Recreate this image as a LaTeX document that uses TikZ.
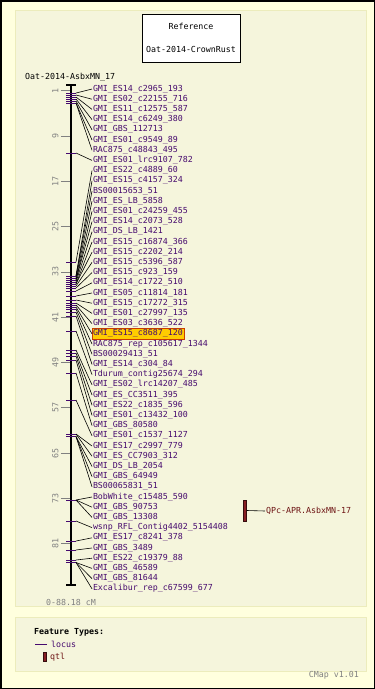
\documentclass[tikz,border=0pt]{standalone}
\usepackage{fontspec}
\setmainfont{DejaVu Sans Mono}
\usepackage{tikz}
\usetikzlibrary{positioning}

\definecolor{cream}{RGB}{255,255,222}
\definecolor{panelbg}{RGB}{245,245,220}
\definecolor{panelrule}{RGB}{236,236,188}
\definecolor{locuscol}{RGB}{70,10,110}
\definecolor{qtlcol}{RGB}{135,30,35}
\definecolor{qtltext}{RGB}{110,20,20}
\definecolor{hlfill}{RGB}{255,204,0}
\definecolor{hlrule}{RGB}{200,60,0}

\tikzset{
  px/.style={font=\fontsize{8.3}{10}\selectfont},
  lbl/.style={px, text=locuscol, inner xsep=1pt, inner ysep=1.1pt, outer sep=0pt,
              text height=6pt, text depth=2pt},
  hilite/.style={lbl, draw=hlrule, fill=hlfill, line width=0.8pt},
  snp/.style={fill=locuscol, minimum width=10pt, minimum height=0.9pt, inner sep=0pt, outer sep=0pt},
  endbar/.style={fill=black, minimum width=10pt, minimum height=1.2pt, inner sep=0pt, outer sep=0pt},
  con/.style={line width=0.6pt, black},
  chrom/.style={line width=2.6pt, black},
  scalenum/.style={px, text=gray, rotate=90, inner sep=0pt, text height=5.5pt, text depth=0pt},
  scaletick/.style={gray, line width=0.8pt},
  qtlbar/.style={fill=qtlcol, draw=black!60!qtlcol, line width=0.6pt, minimum width=3.5pt,
                 minimum height=21pt, inner sep=0pt, outer sep=0pt},
  panel/.style={fill=panelbg, draw=panelrule, line width=1pt}
}

\begin{document}
\begin{tikzpicture}[x=1pt, y=-1pt]

    \useasboundingbox (0,0) rectangle (375,689);

    % Background and panels
    \fill[cream] (0,0) rectangle (375,689);
    \draw[black, line width=1.5pt] (0.75,0.75) rectangle (374.25,688.25);
    \draw[panel] (15,10) rectangle (366,606);
    \draw[panel] (15,617) rectangle (366,671);

    % Reference box
    \node (refbox) [px, draw, fill=white, line width=0.8pt, minimum width=98pt, minimum height=48pt,
                    align=center] at (191,38) {Reference\\[13.5pt]Oat-2014-CrownRust};
    \node (mapname) [px, anchor=west, inner sep=0pt] at (25,77) {Oat-2014-AsbxMN\_17};

    % Chromosome
    \node (ctop) [endbar] at (71,85) {};
    \node (cbot) [endbar] at (71,585) {};
    \draw[chrom] (ctop.center) -- (cbot.center);
    \node (range) [px, text=gray, below=10pt of cbot] {0-88.18 cM};

    % Scale
    \node (s1) [scalenum] at (55.5,90.7) {1};
    \node (s9) [scalenum] at (55.5,136) {9};
    \node (s17) [scalenum] at (55.5,181.3) {17};
    \node (s25) [scalenum] at (55.5,226.6) {25};
    \node (s33) [scalenum] at (55.5,271.9) {33};
    \node (s41) [scalenum] at (55.5,317.2) {41};
    \node (s49) [scalenum] at (55.5,362.5) {49};
    \node (s57) [scalenum] at (55.5,407.8) {57};
    \node (s65) [scalenum] at (55.5,453.1) {65};
    \node (s73) [scalenum] at (55.5,498.4) {73};
    \node (s81) [scalenum] at (55.5,543.7) {81};
    \draw[scaletick] ([xshift=2.5pt]s1.south) -- ++(9,0);
    \draw[scaletick] ([xshift=2.5pt]s9.south) -- ++(9,0);
    \draw[scaletick] ([xshift=2.5pt]s17.south) -- ++(9,0);
    \draw[scaletick] ([xshift=2.5pt]s25.south) -- ++(9,0);
    \draw[scaletick] ([xshift=2.5pt]s33.south) -- ++(9,0);
    \draw[scaletick] ([xshift=2.5pt]s41.south) -- ++(9,0);
    \draw[scaletick] ([xshift=2.5pt]s49.south) -- ++(9,0);
    \draw[scaletick] ([xshift=2.5pt]s57.south) -- ++(9,0);
    \draw[scaletick] ([xshift=2.5pt]s65.south) -- ++(9,0);
    \draw[scaletick] ([xshift=2.5pt]s73.south) -- ++(9,0);
    \draw[scaletick] ([xshift=2.5pt]s81.south) -- ++(9,0);

    % Markers on the chromosome
    \node (m1) [snp] at (71,93) {};
    \node (m2) [snp] at (71,95) {};
    \node (m3) [snp] at (71,97) {};
    \node (m4) [snp] at (71,99) {};
    \node (m5) [snp] at (71,101) {};
    \node (m6) [snp] at (71,103) {};
    \node (m7) [snp] at (71,103) {};
    \node (m8) [snp] at (71,153) {};
    \node (m9) [snp] at (71,262) {};
    \node (m10) [snp] at (71,276) {};
    \node (m11) [snp] at (71,276) {};
    \node (m12) [snp] at (71,278) {};
    \node (m13) [snp] at (71,280) {};
    \node (m14) [snp] at (71,280) {};
    \node (m15) [snp] at (71,282) {};
    \node (m16) [snp] at (71,284) {};
    \node (m17) [snp] at (71,284) {};
    \node (m18) [snp] at (71,286) {};
    \node (m19) [snp] at (71,288) {};
    \node (m20) [snp] at (71,291) {};
    \node (m21) [snp] at (71,296) {};
    \node (m22) [snp] at (71,300) {};
    \node (m23) [snp] at (71,303) {};
    \node (m24) [snp] at (71,305) {};
    \node (m25) [snp] at (71,307) {};
    \node (m26) [snp] at (71,309) {};
    \node (m27) [snp] at (71,312) {};
    \node (m28) [snp] at (71,316) {};
    \node (m29) [snp] at (71,331) {};
    \node (m30) [snp] at (71,350) {};
    \node (m31) [snp] at (71,353) {};
    \node (m32) [snp] at (71,356) {};
    \node (m33) [snp] at (71,360) {};
    \node (m34) [snp] at (71,373) {};
    \node (m35) [snp] at (71,400) {};
    \node (m36) [snp] at (71,434) {};
    \node (m37) [snp] at (71,434) {};
    \node (m38) [snp] at (71,436.5) {};
    \node (m39) [snp] at (71,436.5) {};
    \node (m40) [snp] at (71,436.5) {};
    \node (m41) [snp] at (71,500) {};
    \node (m42) [snp] at (71,500) {};
    \node (m43) [snp] at (71,500) {};
    \node (m44) [snp] at (71,521) {};
    \node (m45) [snp] at (71,541) {};
    \node (m46) [snp] at (71,550) {};
    \node (m47) [snp] at (71,560) {};
    \node (m48) [snp] at (71,562.5) {};
    \node (m49) [snp] at (71,562.5) {};
    \node (m50) [snp] at (71,562.5) {};

    % Marker labels
    \node (l1) [lbl, anchor=west] at (92,89) {GMI\_ES14\_c2965\_193};
    \node (l2) [lbl, below right=0pt and 0pt of l1.south west] {GMI\_ES02\_c22155\_716};
    \node (l3) [lbl, below right=0pt and 0pt of l2.south west] {GMI\_ES11\_c12575\_587};
    \node (l4) [lbl, below right=0pt and 0pt of l3.south west] {GMI\_ES14\_c6249\_380};
    \node (l5) [lbl, below right=0pt and 0pt of l4.south west] {GMI\_GBS\_112713};
    \node (l6) [lbl, below right=0pt and 0pt of l5.south west] {GMI\_ES01\_c9549\_89};
    \node (l7) [lbl, below right=0pt and 0pt of l6.south west] {RAC875\_c48843\_495};
    \node (l8) [lbl, below right=0pt and 0pt of l7.south west] {GMI\_ES01\_lrc9107\_782};
    \node (l9) [lbl, below right=0pt and 0pt of l8.south west] {GMI\_ES22\_c4889\_60};
    \node (l10) [lbl, below right=0pt and 0pt of l9.south west] {GMI\_ES15\_c4157\_324};
    \node (l11) [lbl, below right=0pt and 0pt of l10.south west] {BS00015653\_51};
    \node (l12) [lbl, below right=0pt and 0pt of l11.south west] {GMI\_ES\_LB\_5858};
    \node (l13) [lbl, below right=0pt and 0pt of l12.south west] {GMI\_ES01\_c24259\_455};
    \node (l14) [lbl, below right=0pt and 0pt of l13.south west] {GMI\_ES14\_c2073\_528};
    \node (l15) [lbl, below right=0pt and 0pt of l14.south west] {GMI\_DS\_LB\_1421};
    \node (l16) [lbl, below right=0pt and 0pt of l15.south west] {GMI\_ES15\_c16874\_366};
    \node (l17) [lbl, below right=0pt and 0pt of l16.south west] {GMI\_ES15\_c2202\_214};
    \node (l18) [lbl, below right=0pt and 0pt of l17.south west] {GMI\_ES15\_c5396\_587};
    \node (l19) [lbl, below right=0pt and 0pt of l18.south west] {GMI\_ES15\_c923\_159};
    \node (l20) [lbl, below right=0pt and 0pt of l19.south west] {GMI\_ES14\_c1722\_510};
    \node (l21) [lbl, below right=0pt and 0pt of l20.south west] {GMI\_ES05\_c11814\_181};
    \node (l22) [lbl, below right=0pt and 0pt of l21.south west] {GMI\_ES15\_c17272\_315};
    \node (l23) [lbl, below right=0pt and 0pt of l22.south west] {GMI\_ES01\_c27997\_135};
    \node (l24) [lbl, below right=0pt and 0pt of l23.south west] {GMI\_ES03\_c3636\_522};
    \node (l25) [hilite, below right=0pt and 0pt of l24.south west] {GMI\_ES15\_c8687\_120};
    \node (l26) [lbl, below right=0pt and 0pt of l25.south west] {RAC875\_rep\_c105617\_1344};
    \node (l27) [lbl, below right=0pt and 0pt of l26.south west] {BS00029413\_51};
    \node (l28) [lbl, below right=0pt and 0pt of l27.south west] {GMI\_ES14\_c304\_84};
    \node (l29) [lbl, below right=0pt and 0pt of l28.south west] {Tdurum\_contig25674\_294};
    \node (l30) [lbl, below right=0pt and 0pt of l29.south west] {GMI\_ES02\_lrc14207\_485};
    \node (l31) [lbl, below right=0pt and 0pt of l30.south west] {GMI\_ES\_CC3511\_395};
    \node (l32) [lbl, below right=0pt and 0pt of l31.south west] {GMI\_ES22\_c1835\_596};
    \node (l33) [lbl, below right=0pt and 0pt of l32.south west] {GMI\_ES01\_c13432\_100};
    \node (l34) [lbl, below right=0pt and 0pt of l33.south west] {GMI\_GBS\_80580};
    \node (l35) [lbl, below right=0pt and 0pt of l34.south west] {GMI\_ES01\_c1537\_1127};
    \node (l36) [lbl, below right=0pt and 0pt of l35.south west] {GMI\_ES17\_c2997\_779};
    \node (l37) [lbl, below right=0pt and 0pt of l36.south west] {GMI\_ES\_CC7903\_312};
    \node (l38) [lbl, below right=0pt and 0pt of l37.south west] {GMI\_DS\_LB\_2054};
    \node (l39) [lbl, below right=0pt and 0pt of l38.south west] {GMI\_GBS\_64949};
    \node (l40) [lbl, below right=0pt and 0pt of l39.south west] {BS00065831\_51};
    \node (l41) [lbl, below right=0pt and 0pt of l40.south west] {BobWhite\_c15485\_590};
    \node (l42) [lbl, below right=0pt and 0pt of l41.south west] {GMI\_GBS\_90753};
    \node (l43) [lbl, below right=0pt and 0pt of l42.south west] {GMI\_GBS\_13308};
    \node (l44) [lbl, below right=0pt and 0pt of l43.south west] {wsnp\_RFL\_Contig4402\_5154408};
    \node (l45) [lbl, below right=0pt and 0pt of l44.south west] {GMI\_ES17\_c8241\_378};
    \node (l46) [lbl, below right=0pt and 0pt of l45.south west] {GMI\_GBS\_3489};
    \node (l47) [lbl, below right=0pt and 0pt of l46.south west] {GMI\_ES22\_c19379\_88};
    \node (l48) [lbl, below right=0pt and 0pt of l47.south west] {GMI\_GBS\_46589};
    \node (l49) [lbl, below right=0pt and 0pt of l48.south west] {GMI\_GBS\_81644};
    \node (l50) [lbl, below right=0pt and 0pt of l49.south west] {Excalibur\_rep\_c67599\_677};

    % Marker connectors
    \draw[con] (m1.east) -- (l1.west);
    \draw[con] (m2.east) -- (l2.west);
    \draw[con] (m3.east) -- (l3.west);
    \draw[con] (m4.east) -- (l4.west);
    \draw[con] (m5.east) -- (l5.west);
    \draw[con] (m6.east) -- (l6.west);
    \draw[con] (m7.east) -- (l7.west);
    \draw[con] (m8.east) -- (l8.west);
    \draw[con] (m9.east) -- (l9.west);
    \draw[con] (m10.east) -- (l10.west);
    \draw[con] (m11.east) -- (l11.west);
    \draw[con] (m12.east) -- (l12.west);
    \draw[con] (m13.east) -- (l13.west);
    \draw[con] (m14.east) -- (l14.west);
    \draw[con] (m15.east) -- (l15.west);
    \draw[con] (m16.east) -- (l16.west);
    \draw[con] (m17.east) -- (l17.west);
    \draw[con] (m18.east) -- (l18.west);
    \draw[con] (m19.east) -- (l19.west);
    \draw[con] (m20.east) -- (l20.west);
    \draw[con] (m21.east) -- (l21.west);
    \draw[con] (m22.east) -- (l22.west);
    \draw[con] (m23.east) -- (l23.west);
    \draw[con] (m24.east) -- (l24.west);
    \draw[con] (m25.east) -- (l25.west);
    \draw[con] (m26.east) -- (l26.west);
    \draw[con] (m27.east) -- (l27.west);
    \draw[con] (m28.east) -- (l28.west);
    \draw[con] (m29.east) -- (l29.west);
    \draw[con] (m30.east) -- (l30.west);
    \draw[con] (m31.east) -- (l31.west);
    \draw[con] (m32.east) -- (l32.west);
    \draw[con] (m33.east) -- (l33.west);
    \draw[con] (m34.east) -- (l34.west);
    \draw[con] (m35.east) -- (l35.west);
    \draw[con] (m36.east) -- (l36.west);
    \draw[con] (m37.east) -- (l37.west);
    \draw[con] (m38.east) -- (l38.west);
    \draw[con] (m39.east) -- (l39.west);
    \draw[con] (m40.east) -- (l40.west);
    \draw[con] (m41.east) -- (l41.west);
    \draw[con] (m42.east) -- (l42.west);
    \draw[con] (m43.east) -- (l43.west);
    \draw[con] (m44.east) -- (l44.west);
    \draw[con] (m45.east) -- (l45.west);
    \draw[con] (m46.east) -- (l46.west);
    \draw[con] (m47.east) -- (l47.west);
    \draw[con] (m48.east) -- (l48.west);
    \draw[con] (m49.east) -- (l49.west);
    \draw[con] (m50.east) -- (l50.west);

    % QTL
    \node (qbar) [qtlbar] at (245,510.5) {};
    \node (qname) [px, text=qtltext, anchor=west, inner sep=1pt] at (265,511) {QPc-APR.AsbxMN-17};
    \draw[con] (qbar.east) -- (qname.west);

    % Legend
    \node (ftypes) [px, font=\fontsize{8.3}{10}\selectfont\bfseries, anchor=west, inner sep=0pt] at (34,632) {Feature Types:};
    \node (loctxt) [px, text=locuscol, anchor=west, inner sep=1pt] at (50,644) {locus};
    \draw[locuscol, line width=0.8pt] ([xshift=-3pt]loctxt.west) -- ++(-12,0);
    \node (qkey) [qtlbar, minimum width=3pt, minimum height=9pt] at (44.5,657) {};
    \node (qtltxt) [px, text=qtltext, anchor=west, inner sep=1pt] at (49,657) {qtl};
    \node (version) [px, text=gray, anchor=east, inner sep=0pt] at (359,675) {CMap v1.01};

\end{tikzpicture}
\end{document}
